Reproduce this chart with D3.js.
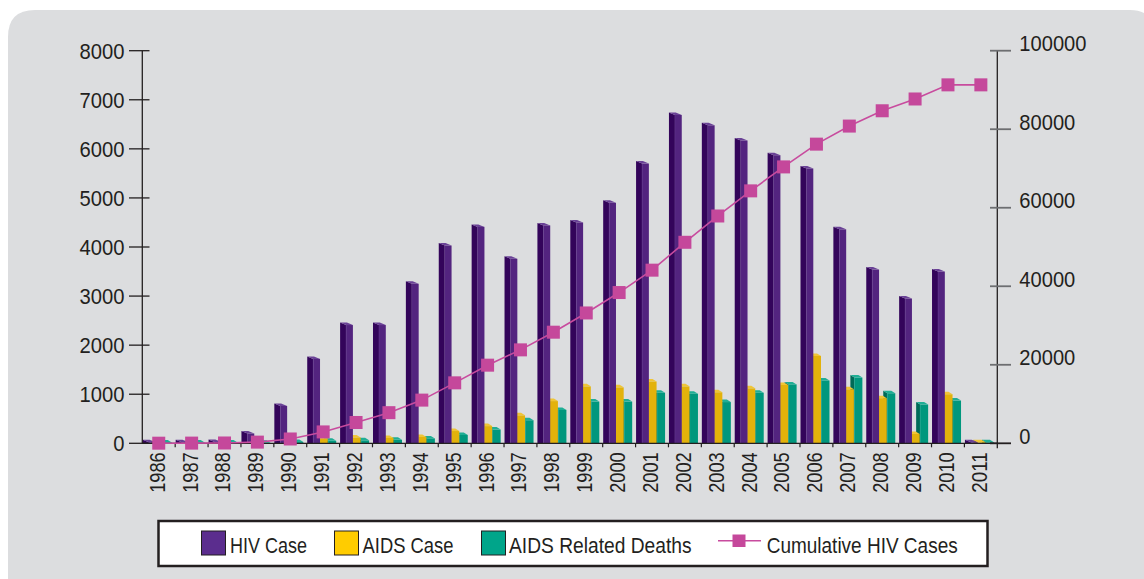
<!DOCTYPE html>
<html>
<head>
<meta charset="utf-8">
<script src="https://cdn.jsdelivr.net/npm/d3@7"></script>
<style>
  html, body { margin: 0; padding: 0; background: #fff; }
  svg { display: block; font-family: "Liberation Sans", Arial, Helvetica, sans-serif; }
</style>
</head>
<body>
<svg id="chart" width="1144" height="579"></svg>
<script>
// values
let years = ['1986', '1987', '1988', '1989', '1990', '1991', '1992', '1993', '1994', '1995',
  '1996', '1997', '1998', '1999', '2000', '2001', '2002', '2003', '2004', '2005',
  '2006', '2007', '2008', '2009', '2010', '2011'];

let hivCase = [20, 20, 25, 200, 760, 1720, 2410, 2410, 3250, 4030,
  4410, 3760, 4440, 4500, 4900, 5700, 6690, 6480, 6170, 5870,
  5600, 4360, 3540, 2950, 3500, 20];

let aidsCase = [3, 3, 3, 5, 10, 100, 120, 110, 130, 250,
  350, 570, 860, 1160, 1140, 1260, 1160, 1040, 1120, 1190,
  1780, 1100, 920, 190, 1000, 20];

let aidsDeaths = [15, 15, 15, 10, 25, 50, 60, 70, 100, 170,
  280, 470, 680, 850, 850, 1030, 1010, 840, 1030, 1200,
  1280, 1340, 1020, 790, 870, 20];

let cumulative = [30, 50, 80, 300, 1100, 2900, 5300, 7800, 11000, 15400,
  19900, 23800, 28300, 33200, 38400, 44100, 51200, 57900, 64300, 70400,
  76200, 80800, 84700, 87700, 91300, 91300];

let leftTicks = [0, 1000, 2000, 3000, 4000, 5000, 6000, 7000, 8000];
let rightTicks = [0, 20000, 40000, 60000, 80000, 100000];

let legendNames = ['HIV Case', 'AIDS Case', 'AIDS Related Deaths', 'Cumulative HIV Cases'];

let svg = d3.select('#chart');

let x0 = 142.3, x1 = 997.3, yBase = 443.3, yTop = 50.7;
let ink = '#231f20';

// grey panel with rounded corners
svg.append('path')
  .attr('d', 'M8,579 L8,37 Q8,10 35,10 L1130,10 Q1142,10 1148,16 L1148,579 Z')
  .attr('fill', '#dcdddf');

let x = d3.scaleBand().domain(years).range([x0, x1]).padding(0);
let yLeft = d3.scaleLinear().domain([0, 8000]).range([yBase, yTop]);
let yRight = d3.scaleLinear().domain([0, 100000]).range([yBase, yTop]);

// series drawn back to front; offsets are within the category band
let series = [
  {values: aidsDeaths, off: 17.5, side: 4, front: 8, cFront: '#00977d', cSide: '#006a57', cTop: '#1fae95'},
  {values: aidsCase, off: 9, side: 4, front: 8, cFront: '#e3b20b', cSide: '#b38a06', cTop: '#f0c536'},
  {values: hivCase, off: 0.5, side: 6, front: 6.8, cFront: '#53247f', cSide: '#33045a', cTop: '#6a4196'}
];

let dy = 2.5;

series.forEach(function(s) {
  let g = svg.append('g');
  let bars = g.selectAll('g.bar')
    .data(years.map(function(yr, i) { return {year: yr, value: s.values[i]}; }))
    .enter().append('g')
    .attr('class', 'bar');

  bars.each(function(d) {
    let el = d3.select(this);
    let bx = x(d.year) + s.off;
    let top = yLeft(d.value);
    let fx = bx + s.side;
    let rx = fx + s.front;
    // left (dark) face
    el.append('polygon')
      .attr('points', [[bx, Math.min(top - dy, yBase)], [fx, top], [fx, yBase], [bx, yBase]].join(' '))
      .attr('fill', s.cSide);
    // front face
    el.append('rect')
      .attr('x', fx).attr('y', top)
      .attr('width', s.front).attr('height', Math.max(0, yBase - top))
      .attr('fill', s.cFront);
    // top face
    el.append('polygon')
      .attr('points', [[bx, top - dy], [fx, top], [rx, top], [rx - s.side, top - dy]].join(' '))
      .attr('fill', s.cTop);
    // thin highlight on the edge between faces
    el.append('line')
      .attr('x1', fx).attr('x2', fx)
      .attr('y1', top).attr('y2', yBase)
      .attr('stroke', s.cTop).attr('stroke-width', 0.6).attr('opacity', 0.7);
  });
});

// left axis
svg.append('line')
  .attr('x1', x0).attr('x2', x0).attr('y1', yTop).attr('y2', yBase)
  .attr('stroke', ink).attr('stroke-width', 1.3);

svg.selectAll('.ltick')
  .data(leftTicks)
  .enter().append('line')
  .attr('x1', 129).attr('x2', 149.5)
  .attr('y1', function(d) { return yLeft(d); })
  .attr('y2', function(d) { return yLeft(d); })
  .attr('stroke', ink).attr('stroke-width', 1.3);

svg.selectAll('.llabel')
  .data(leftTicks)
  .enter().append('text')
  .attr('x', 124.5)
  .attr('y', function(d) { return yLeft(d); })
  .attr('dy', '0.36em')
  .attr('text-anchor', 'end')
  .attr('font-size', 22)
  .attr('fill', ink)
  .attr('textLength', function(d) { return String(d).length * 11.25; })
  .attr('lengthAdjust', 'spacingAndGlyphs')
  .text(function(d) { return d; });

// right axis
svg.append('line')
  .attr('x1', x1).attr('x2', x1).attr('y1', yTop).attr('y2', yBase + 5)
  .attr('stroke', ink).attr('stroke-width', 1.3);

svg.selectAll('.rtick')
  .data(rightTicks)
  .enter().append('line')
  .attr('x1', 990).attr('x2', 1011)
  .attr('y1', function(d) { return yRight(d); })
  .attr('y2', function(d) { return yRight(d); })
  .attr('stroke', function(d) { return d === 0 ? ink : '#6d6e71'; })
  .attr('stroke-width', 1.8);

svg.selectAll('.rlabel')
  .data(rightTicks)
  .enter().append('text')
  .attr('x', 1019.3)
  .attr('y', function(d) { return yRight(d) + 0.5; })
  .attr('font-size', 22)
  .attr('fill', ink)
  .attr('textLength', function(d) { return String(d).length * 11.2; })
  .attr('lengthAdjust', 'spacingAndGlyphs')
  .text(function(d) { return d; });

// category axis
svg.append('line')
  .attr('x1', x0).attr('x2', x1).attr('y1', yBase).attr('y2', yBase)
  .attr('stroke', ink).attr('stroke-width', 1.3);

svg.selectAll('.xtick')
  .data(years.slice(1))
  .enter().append('line')
  .attr('x1', function(d) { return x(d); })
  .attr('x2', function(d) { return x(d); })
  .attr('y1', yBase).attr('y2', yBase + 4)
  .attr('stroke', ink).attr('stroke-width', 1.2);

svg.selectAll('.xlabel')
  .data(years)
  .enter().append('text')
  .attr('transform', function(d) {
    return 'translate(' + (x(d) + x.bandwidth() / 2 - 2) + ',452.3) rotate(-90)';
  })
  .attr('dy', '0.36em')
  .attr('text-anchor', 'end')
  .attr('font-size', 22)
  .attr('fill', ink)
  .attr('textLength', 40.5)
  .attr('lengthAdjust', 'spacingAndGlyphs')
  .text(function(d) { return d; });

// cumulative line
let line = d3.line()
  .x(function(d, i) { return x(years[i]) + x.bandwidth() / 2; })
  .y(function(d) { return yRight(d); });

svg.append('path')
  .datum(cumulative)
  .attr('d', line)
  .attr('fill', 'none')
  .attr('stroke', '#c84b9e')
  .attr('stroke-width', 1.6);

svg.selectAll('.marker')
  .data(cumulative)
  .enter().append('rect')
  .attr('x', function(d, i) { return x(years[i]) + x.bandwidth() / 2 - 6.5; })
  .attr('y', function(d) { return yRight(d) - 6.5; })
  .attr('width', 13).attr('height', 13)
  .attr('fill', '#c5489b');

// legend
let legend = svg.append('g');
legend.append('rect')
  .attr('x', 158.5).attr('y', 521).attr('width', 829).attr('height', 45)
  .attr('fill', '#fff')
  .attr('stroke', ink).attr('stroke-width', 2.5);

let swatchColors = ['#5b2d8e', '#ffcc00', '#00a58a'];
let swatchX = [201.5, 334.5, 481.5];
let textX = [230, 362.5, 509];
let textW = [77, 91, 182.5, 191];

legendNames.slice(0, 3).forEach(function(name, i) {
  legend.append('rect')
    .attr('x', swatchX[i]).attr('y', 531)
    .attr('width', 24).attr('height', 24)
    .attr('fill', swatchColors[i])
    .attr('stroke', ink).attr('stroke-width', 1);
  legend.append('text')
    .attr('x', textX[i]).attr('y', 553)
    .attr('font-size', 22)
    .attr('fill', ink)
    .attr('textLength', textW[i])
    .attr('lengthAdjust', 'spacingAndGlyphs')
    .text(name);
});

legend.append('line')
  .attr('x1', 718).attr('x2', 761).attr('y1', 540.8).attr('y2', 540.8)
  .attr('stroke', '#c84b9e').attr('stroke-width', 1.6);
legend.append('rect')
  .attr('x', 732.5).attr('y', 534.5).attr('width', 13).attr('height', 12.5)
  .attr('fill', '#c5489b');
legend.append('text')
  .attr('x', 766.7).attr('y', 553)
  .attr('font-size', 22)
  .attr('fill', ink)
  .attr('textLength', textW[3])
  .attr('lengthAdjust', 'spacingAndGlyphs')
  .text(legendNames[3]);
</script>
</body>
</html>
